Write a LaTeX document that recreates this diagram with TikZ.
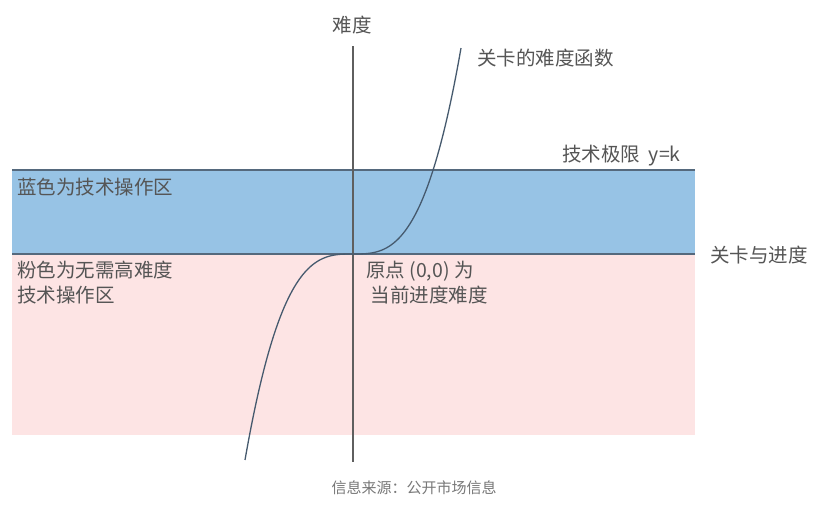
\documentclass[tikz,border=0pt]{standalone}
\usepackage{fontspec}
\setmainfont{Noto Sans CJK SC}
\definecolor{bandblue}{RGB}{151,195,229}
\definecolor{bandpink}{RGB}{253,228,228}
\definecolor{edgeline}{RGB}{85,105,125}
\definecolor{axisgray}{RGB}{95,95,95}
\definecolor{curvecol}{RGB}{70,90,110}
\definecolor{txtgray}{RGB}{85,85,85}
\definecolor{footgray}{RGB}{120,120,120}
\begin{document}
\begin{tikzpicture}[x=1pt,y=-1pt,
  lbl/.style={text=txtgray,font=\fontsize{19.5}{25}\selectfont,inner sep=0pt},
  lblleft/.style={lbl,anchor=west,align=left}]
\useasboundingbox (0,0) rectangle (816,506);
\fill[white] (0,0) rectangle (816,506);
% bands
\fill[bandblue] (12,170) rectangle (695,254);
\fill[bandpink] (12,254) rectangle (695,435);
\draw[edgeline,line width=1.2pt] (12,170) -- (695,170);
\draw[edgeline,line width=1.2pt] (12,254) -- (695,254);
% axis
\coordinate (axtop) at (353,46);
\coordinate (axbot) at (353,462);
\draw[axisgray,line width=1.3pt] (axtop) -- (axbot);
% curve
\draw[curvecol,line width=1.3pt,smooth,samples=120,domain=-108:108]
  plot ({353+\x},{254-163.5*(\x/100)^3});
% labels
\node[lbl] (ylab) at (352,25) {难度};
\node[lblleft] (flab) at (477,58) {关卡的难度函数};
\node[lblleft] (klab) at (562,156) {技术极限\ \ y=k};
\node[lblleft] (xlab) at (710,255) {关卡与进度};
\node[lblleft] (blue) at (17,187) {蓝色为技术操作区};
\node[lblleft,anchor=north west] (pink) at (17,261) {粉色为无需高难度\\技术操作区};
\node[lblleft,anchor=north west] (orig) at (366,261) {原点 (0,0) 为\\\ 当前进度难度};
\node[text=footgray,font=\fontsize{15}{18}\selectfont,inner sep=0pt] (src) at (414,488) {信息来源：公开市场信息};
\end{tikzpicture}
\end{document}
